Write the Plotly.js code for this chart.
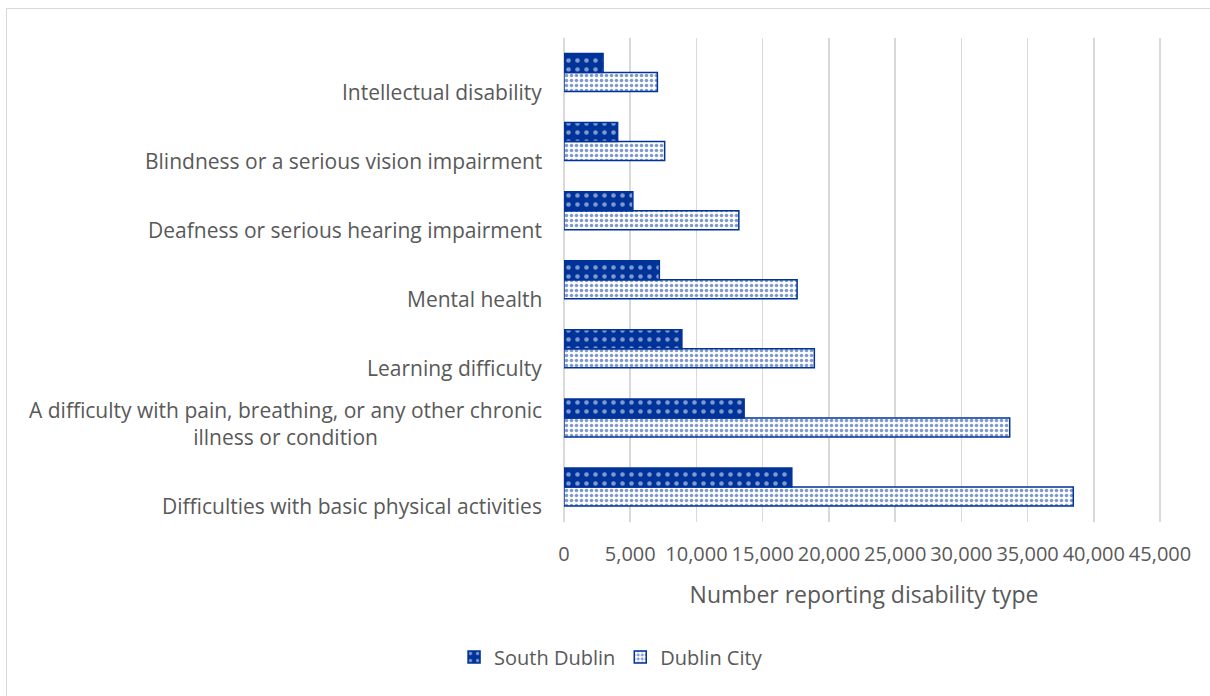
<!DOCTYPE html>
<html>
<head>
<meta charset="utf-8">
<script src="https://cdn.plot.ly/plotly-3.0.1.min.js"></script>
<style>
  body { margin: 0; background: #fff; overflow: hidden; }
  #frame { position: absolute; left: 6px; top: 8px; width: 1300px; height: 800px;
           border-left: 1.5px solid #d9d9d9; border-top: 1.5px solid #d9d9d9; }
  #graph { position: absolute; left: 0; top: 0; width: 1210px; height: 696px; }
</style>
</head>
<body>
<div id="frame"></div>
<div id="graph"></div>
<script>
// Categories, bottom to top (as Excel draws them)
const categories = [
    'Difficulties with basic physical activities',
    'A difficulty with pain, breathing, or any other chronic<br>illness or condition',
    'Learning difficulty',
    'Mental health',
    'Deafness or serious hearing impairment',
    'Blindness or a serious vision impairment',
    'Intellectual disability'
];

const southDublin = [17200, 13600, 8900, 7200, 5200, 4050, 2950];
const dublinCity = [38450, 33650, 18900, 17600, 13200, 7600, 7050];

const xTicks = [0, 5000, 10000, 15000, 20000, 25000, 30000, 35000, 40000, 45000];

const blue = '#003399';
const textColor = '#595959';
const font = '"Open Sans", Lato, sans-serif';

// Dublin City first so South Dublin sits on top in each group
const traceCity = {
    type: 'bar',
    orientation: 'h',
    name: 'Dublin City',
    y: categories,
    x: dublinCity,
    marker: {
        color: '#ffffff',
        line: { color: blue, width: 1.5 },
        pattern: { shape: '.', size: 5, solidity: 0.4, fgcolor: blue, bgcolor: '#ffffff', fillmode: 'overlay' }
    }
};

const traceSouth = {
    type: 'bar',
    orientation: 'h',
    name: 'South Dublin',
    y: categories,
    x: southDublin,
    marker: {
        color: blue,
        line: { color: blue, width: 1.5 },
        pattern: { shape: '.', size: 9, solidity: 0.2, fgcolor: '#ffffff', bgcolor: blue, fillmode: 'overlay' }
    }
};

// Category labels as annotations so the wrapped label is centred like Excel
const labels = categories.map((c) => ({
    text: c,
    xref: 'paper',
    yref: 'y',
    x: 0,
    y: c,
    xanchor: 'right',
    yanchor: 'bottom',
    xshift: -20,
    yshift: -35,
    align: 'center',
    showarrow: false,
    font: { family: font, size: 21, color: textColor }
}));

const layout = {
    width: 1210,
    height: 696,
    margin: { l: 564, r: 46, t: 38, b: 174 },
    paper_bgcolor: 'rgba(0,0,0,0)',
    plot_bgcolor: 'rgba(0,0,0,0)',
    barmode: 'group',
    bargap: 0.45,
    bargroupgap: 0,
    font: { family: font, size: 20, color: textColor },
    xaxis: {
        range: [0, 45300],
        tickvals: xTicks,
        tickformat: ',',
        showgrid: true,
        gridcolor: '#d9d9d9',
        gridwidth: 1.5,
        zeroline: true,
        zerolinecolor: '#d9d9d9',
        zerolinewidth: 1.5,
        showline: false,
        ticks: '',
        ticklabelstandoff: 18,
        tickfont: { family: font, size: 20, color: textColor },
        title: { text: 'Number reporting disability type', standoff: 20, font: { family: font, size: 23, color: textColor } }
    },
    yaxis: {
        type: 'category',
        categoryorder: 'array',
        categoryarray: categories,
        showticklabels: false,
        showgrid: false,
        zeroline: false,
        showline: false,
        ticks: ''
    },
    showlegend: true,
    legend: {
        orientation: 'h',
        traceorder: 'reversed',
        xref: 'container',
        yref: 'container',
        x: 0.505,
        xanchor: 'center',
        y: 0.056,
        yanchor: 'middle',
        font: { family: font, size: 20, color: textColor },
        itemwidth: 30
    },
    annotations: labels
};

Plotly.newPlot('graph', [traceCity, traceSouth], layout, { displayModeBar: false, staticPlot: true });
</script>
</body>
</html>
